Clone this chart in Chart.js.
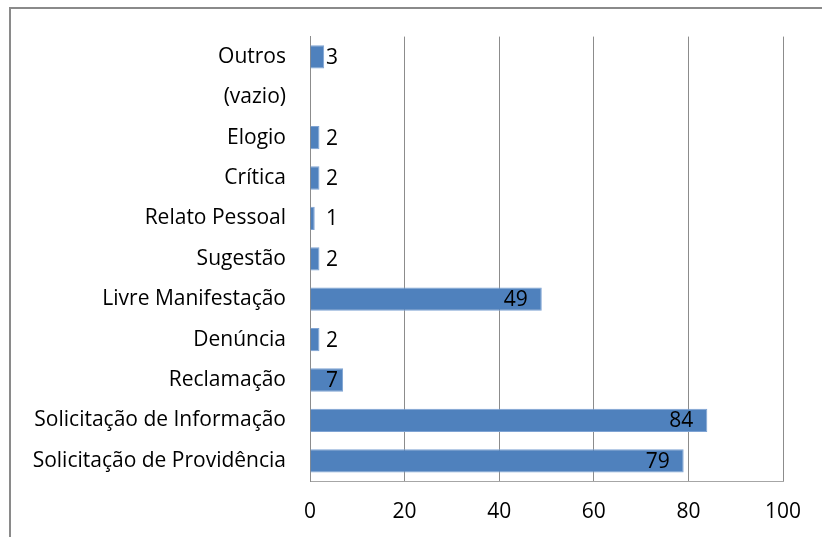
<!DOCTYPE html>
<html>
<head>
<meta charset="utf-8">
<script src="https://cdn.jsdelivr.net/npm/chart.js@4.4.1/dist/chart.umd.min.js"></script>
<style>
    html, body { margin: 0; padding: 0; background: #fff; }
    #wrap { position: relative; width: 822px; height: 537px; }
</style>
</head>
<body>
<div id="wrap"><canvas id="manifChart" width="822" height="537"></canvas></div>
<script>
const categories = [
    "Outros",
    "(vazio)",
    "Elogio",
    "Crítica",
    "Relato Pessoal",
    "Sugestão",
    "Livre Manifestação",
    "Denúncia",
    "Reclamação",
    "Solicitação de Informação",
    "Solicitação de Providência"
];
const counts = [3, null, 2, 2, 1, 2, 49, 2, 7, 84, 79];
const xTicks = [0, 20, 40, 60, 80, 100];

const FONT = "'Open Sans', sans-serif";
const FONT_SIZE = 21;

// moldura cinza do gráfico (sai para fora da imagem à direita e embaixo)
const framePlugin = {
    id: "frame",
    beforeDraw(chart) {
        const ctx = chart.ctx;
        ctx.save();
        ctx.fillStyle = "#fff";
        ctx.fillRect(0, 0, chart.width, chart.height);
        ctx.strokeStyle = "#8a8a8a";
        ctx.lineWidth = 2;
        ctx.strokeRect(10, 8, chart.width + 20, chart.height + 20);
        ctx.restore();
    }
};

// rótulos de valor: dentro da ponta da barra, mínimo perto da base
const valueLabels = {
    id: "valueLabels",
    afterDatasetsDraw(chart) {
        const ctx = chart.ctx;
        const meta = chart.getDatasetMeta(0);
        const base = chart.scales.x.getPixelForValue(0);
        ctx.save();
        ctx.font = `${FONT_SIZE}px ${FONT}`;
        ctx.fillStyle = "#000";
        ctx.textAlign = "right";
        ctx.textBaseline = "middle";
        meta.data.forEach((bar, i) => {
            const v = counts[i];
            if (v === null || v === undefined) return;
            const xRight = Math.max(bar.x - 14, base + 28);
            ctx.fillText(String(v), xRight, bar.y + 1);
        });
        ctx.restore();
    }
};

new Chart(document.getElementById("manifChart"), {
    type: "bar",
    data: {
        labels: categories,
        datasets: [{
            data: counts,
            backgroundColor: "#4f81bd",
            borderColor: "#7ea3d3",
            borderWidth: 1,
            barPercentage: 0.72,
            categoryPercentage: 0.8
        }]
    },
    options: {
        indexAxis: "y",
        responsive: false,
        animation: false,
        layout: { padding: { top: 35, right: 39, left: 0, bottom: 0 } },
        plugins: {
            legend: { display: false },
            tooltip: { enabled: false }
        },
        scales: {
            x: {
                min: 0,
                max: 100,
                afterFit(scale) { scale.height = 56; },
                afterBuildTicks(scale) {
                    scale.ticks = xTicks.map(v => ({ value: v }));
                },
                grid: { color: "#8c8c8c", drawTicks: false },
                border: { color: "#a6a6a6" },
                ticks: {
                    padding: 18,
                    color: "#000",
                    font: { family: FONT, size: FONT_SIZE }
                }
            },
            y: {
                afterFit(scale) { scale.width = 310; },
                grid: { display: false, drawTicks: false },
                border: { color: "#8c8c8c" },
                ticks: {
                    padding: 24,
                    color: "#000",
                    font: { family: FONT, size: FONT_SIZE }
                }
            }
        }
    },
    plugins: [framePlugin, valueLabels]
});
</script>
</body>
</html>
